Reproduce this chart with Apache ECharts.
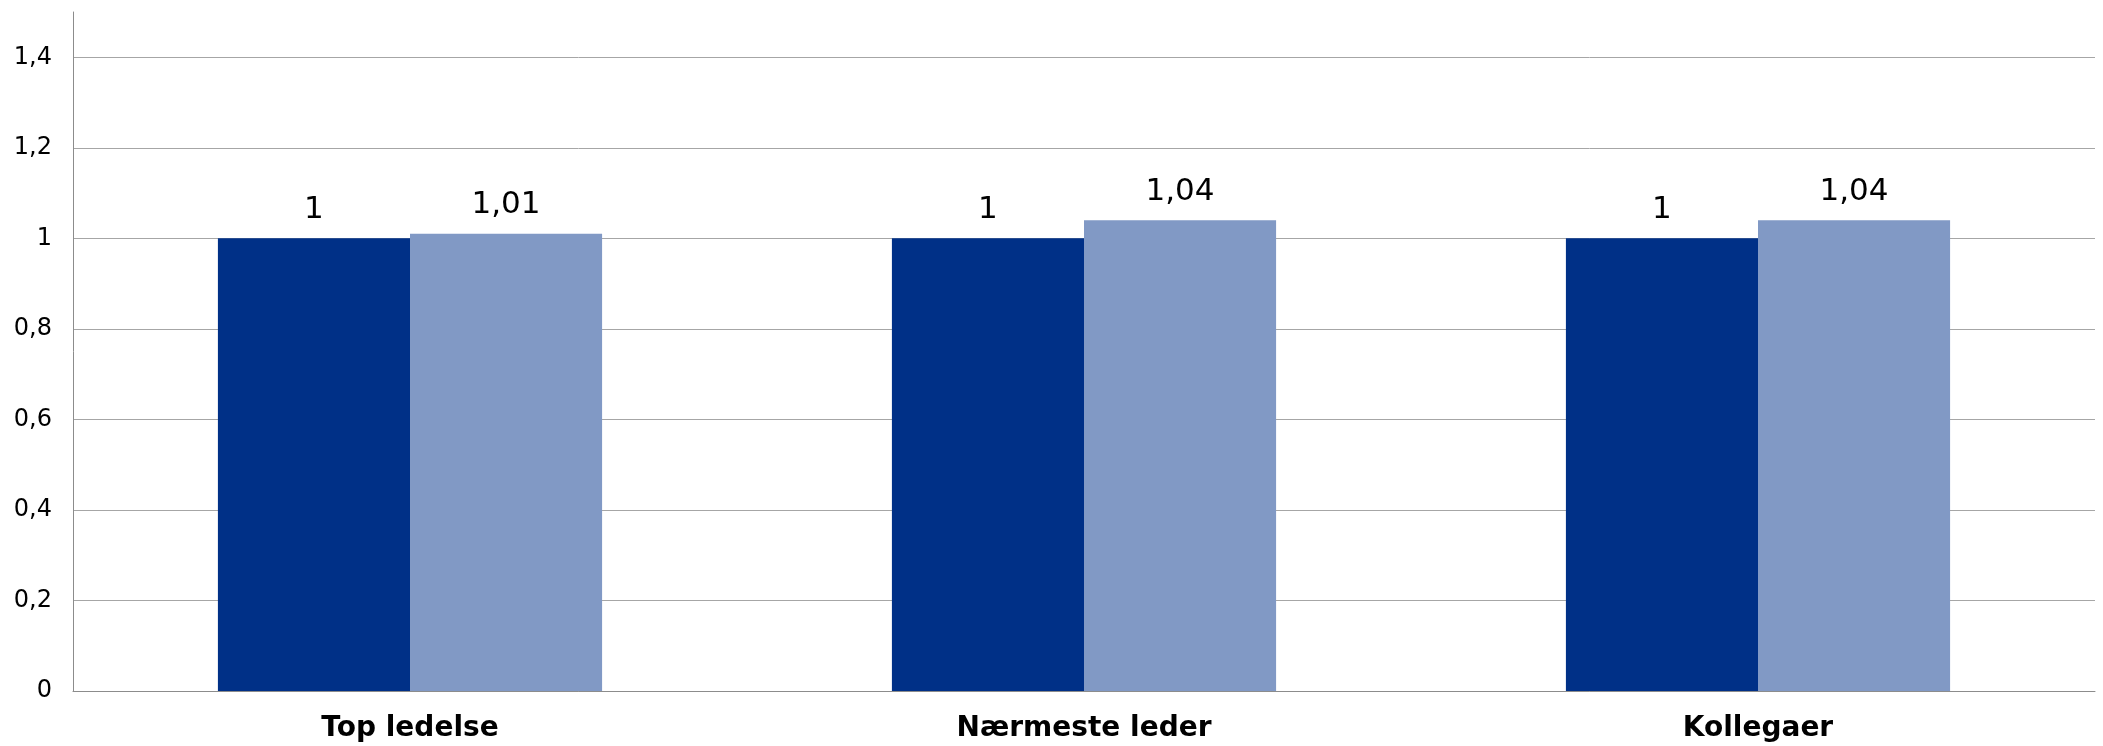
<!DOCTYPE html>
<html>
<head>
<meta charset="utf-8">
<script src="https://cdn.jsdelivr.net/npm/echarts@6/dist/echarts.min.js"></script>
<style>
html,body{margin:0;padding:0;background:#fff;}
#chart{width:2103px;height:746px;}
</style>
</head>
<body>
<div id="chart"></div>
<script>
const categories = ['Top ledelse', 'Nærmeste leder', 'Kollegaer'];
const seriesA = [1, 1, 1];
const seriesB = [1.01, 1.04, 1.04];
const yTicks = { min: 0, max: 1.5, interval: 0.2 };

const fmt = v => String(+v.toFixed(2)).replace('.', ',');
const FONT = 'DejaVu Sans';

const chart = echarts.init(document.getElementById('chart'), null, { renderer: 'canvas' });
chart.setOption({
  animation: false,
  backgroundColor: '#ffffff',
  grid: { left: 73, right: 8, top: 12, bottom: 55, containLabel: false },
  xAxis: {
    type: 'category',
    data: categories,
    axisLine: { show: true, lineStyle: { color: '#8c8c8c', width: 1 } },
    axisTick: { show: false },
    axisLabel: { fontFamily: FONT, fontSize: 28, fontWeight: 'bold', color: '#000', margin: 24 }
  },
  yAxis: {
    type: 'value',
    min: yTicks.min, max: yTicks.max, interval: yTicks.interval,
    axisLine: { show: true, lineStyle: { color: '#8c8c8c', width: 1 } },
    axisTick: { show: false },
    axisLabel: {
      fontFamily: FONT, fontSize: 24, color: '#000', margin: 21,
      showMaxLabel: false,
      formatter: v => fmt(v)
    },
    splitLine: { show: true, showMaxLine: false, lineStyle: { color: '#a6a6a6', width: 1 } }
  },
  series: [
    {
      type: 'bar', data: seriesA, barGap: '0%', barCategoryGap: '43%',
      itemStyle: { color: '#003087' },
      label: { show: true, position: 'top', distance: 13, fontFamily: FONT, fontSize: 31, color: '#000', formatter: p => fmt(p.value) }
    },
    {
      type: 'bar', data: seriesB, barGap: '0%', barCategoryGap: '43%',
      itemStyle: { color: '#8199c5' },
      label: { show: true, position: 'top', distance: 13, fontFamily: FONT, fontSize: 31, color: '#000', formatter: p => fmt(p.value) }
    }
  ]
});
</script>
</body>
</html>
